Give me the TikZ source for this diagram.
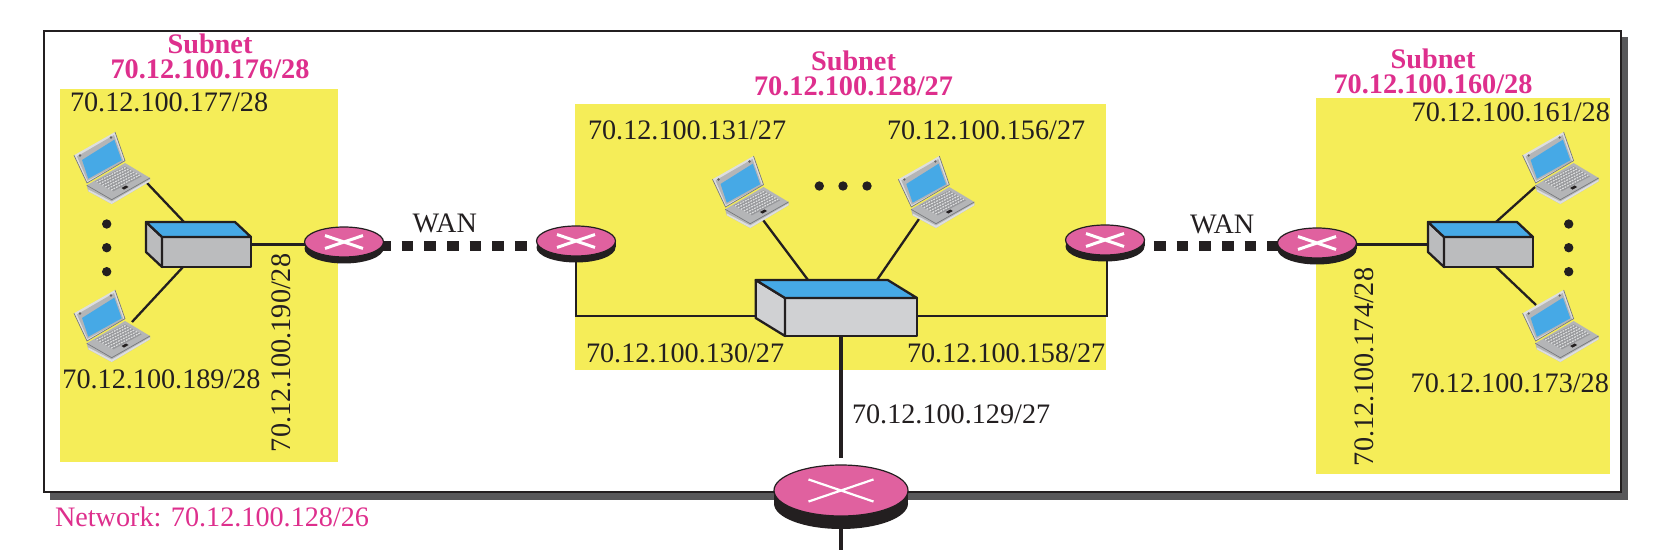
\documentclass[tikz,border=0pt]{standalone}
\usepackage{fontspec}
\setmainfont{Liberation Serif}
\definecolor{ybox}{HTML}{F5ED58}
\definecolor{rpink}{HTML}{E0619F}
\definecolor{tpink}{HTML}{DE2F8D}
\definecolor{sblue}{HTML}{46A9E6}
\definecolor{sgrey}{HTML}{BBBCBE}
\definecolor{sgreyb}{HTML}{D0D1D3}
\definecolor{shad}{HTML}{58585A}
\definecolor{ink}{HTML}{231F20}
\definecolor{lapa}{HTML}{B4B5B7}
\definecolor{lapb}{HTML}{77797C}
\definecolor{lapc}{HTML}{DDDEDF}
\definecolor{lapk}{HTML}{97989B}
\tikzset{
  hub/.style={inner sep=0pt,outer sep=0pt,minimum size=0pt},
  lbl/.style={inner sep=0pt,outer sep=0pt,anchor=base west,text=ink,font=\fontsize{14.1}{16}\selectfont},
  ttl/.style={inner sep=0pt,outer sep=0pt,anchor=base,align=center,text=tpink,font=\fontsize{14.15}{12.15}\selectfont\bfseries},
  wire/.style={draw=ink,line width=1.15pt},
  wan/.style={draw=ink,line width=5pt,dash pattern=on 5.83pt off 5.5pt},
  dot/.style={fill=ink},
  pics/routerbody/.style n args={5}{code={
    \fill[ink] (0,#3) ellipse [x radius=#1,y radius=#2];
    \fill[ink] (-#1,0) rectangle (#1,#3);
    \filldraw[fill=rpink,draw=ink,line width=.6pt] (0,0) ellipse [x radius=#1,y radius=#2];
    \draw[white,line width=#5] (-#4,-0.34*#4) -- (#4,0.34*#4) (-#4,0.34*#4) -- (#4,-0.34*#4);
  }},
  pics/switchbody/.style n args={5}{code={
    \begin{scope}[draw=ink,line width=1.15pt,line join=round]
    \filldraw[fill=#5] (#3,#4) rectangle (#3+#1,#4+#2);
    \filldraw[fill=#5] (0,0) -- (#3,#4) -- (#3,#4+#2) -- (0,#2) -- cycle;
    \filldraw[fill=sblue] (0,0) -- (#1,0) -- (#1+#3,#4) -- (#3,#4) -- cycle;
    \end{scope}
  }},
  pics/laptop/.style={code={
    % base
    \fill[lapa] (-25.3,17.3) -- (-23.7,23.3) -- (-0.3,36) -- (38,13.3) -- (38,10) -- (13,-5) -- cycle;
    \fill[lapc] (-23.7,23.3) -- (-0.3,36) -- (38,13.3) -- (38,11.5) -- (-0.3,33.6) -- (-23.7,21.5) -- cycle;
    \draw[lapb,line width=.35pt] (-25.3,17.3) -- (-0.3,31.7) -- (38,10);
    \fill[lapk] (-17,13.3) -- (13,-1.7) -- (29.7,8.3) -- (1.3,23.3) -- cycle;
    \foreach \k in {0.08,0.24,0.40,0.56,0.72,0.88}{
      \draw[lapc,line width=.6pt,dash pattern=on .9pt off .5pt]
        ({-17+\k*18.3},{13.3+\k*10}) -- ({13+\k*16.7},{-1.7+\k*10});
    }
    \fill[ink] (9.5,20) -- (14,17.5) -- (16.5,19) -- (12,21.6) -- cycle;
    % lid
    \fill[lapc] (-38,-12.7) -- (3,-36) -- (13,-7.3) -- (-25,15) -- cycle;
    \fill[lapa] (-35,-11.5) -- (2,-33) -- (11.5,-6.5) -- (-24.5,12.8) -- cycle;
    \draw[lapb,line width=.35pt] (-38,-12.7) -- (-25,15) -- (13,-7.3) -- (3,-36);
    \fill[sblue] (-30,-8) -- (2.3,-28.3) -- (9.7,-7.7) -- (-23.7,10.7) -- cycle;
    \fill[ink!70] (-32,-12.5) circle (1.3);
    \fill[ink!70] (-1,-30.5) circle (1.3);
  }}
}
\begin{document}
\begin{tikzpicture}[x=0.5pt,y=-0.5pt]
\useasboundingbox (0,0) rectangle (1658,550);
% frame
\fill[shad] (50,37) rectangle (1628,500);
\filldraw[fill=white,draw=ink,line width=1pt] (44,31) rectangle (1621,492);
% subnets
\fill[ybox] (60,89) rectangle (338,462);
\fill[ybox] (575,104) rectangle (1106,370);
\fill[ybox] (1316,98) rectangle (1610,474);
% hubs
\node[hub] (la) at (112,168) {};
\node[hub] (lb) at (112,326) {};
\node[hub] (ma) at (750.5,192) {};
\node[hub] (mb) at (936.3,192) {};
\node[hub] (ra) at (1560.6,168) {};
\node[hub] (rb) at (1560.6,326) {};
\node[hub] (sl) at (198.5,244.5) {};
\node[hub] (sm) at (836.5,308) {};
\node[hub] (sr) at (1480.5,244.5) {};
\node[hub] (r1) at (344,246) {};
\node[hub] (r2) at (576,246) {};
\node[hub] (r3) at (1105,246) {};
\node[hub] (r4) at (1317,246) {};
\node[hub] (br) at (841,497) {};
\coordinate (downend) at (841,550);
% connectors
\draw[wire] ([shift={(35,15)}]la.center) -- ([shift={(-14.5,-22.5)}]sl.center);
\draw[wire] ([shift={(20,-4)}]lb.center) -- ([shift={(-15.5,22.5)}]sl.center);
\draw[wire] ([shift={(12.5,28)}]ma.center) -- ([shift={(-28.5,-28)}]sm.center);
\draw[wire] ([shift={(-17.3,27)}]mb.center) -- ([shift={(40.5,-28)}]sm.center);
\draw[wire] ([shift={(-25.6,19)}]ra.center) -- ([shift={(15.5,-22.5)}]sr.center);
\draw[wire] ([shift={(-24.6,-21)}]rb.center) -- ([shift={(15.5,22.5)}]sr.center);
\draw[wire] (sl.center) -- (sl.center -| r1.center);
\draw[wire] (sr.center) -- (sr.center -| r4.center);
\draw[wire] (r2.center) |- ([shift={(-40,8)}]sm.center);
\draw[wire] ([xshift=1pt]r3.center) |- ([shift={(40,8)}]sm.center);
\draw[draw=ink,line width=2.4pt] ([shift={(4.5,0)}]sm.center) -- ([shift={(4.5,0)}]sm.center |- 0,458);
\draw[draw=ink,line width=2.4pt] (br.center) -- (downend);
\draw[wan,dash phase=5.15pt] (r1.center) -- (r2.center);
\draw[wan,dash phase=9.5pt] (r3.center) -- (r4.center);
% bodies
\pic at (la.center) {laptop};
\pic at (lb.center) {laptop};
\pic at (ma.center) {laptop};
\pic at (mb.center) {laptop};
\pic at (ra.center) {laptop};
\pic at (rb.center) {laptop};
\pic at (146,222) {switchbody={89}{30}{16}{15}{sgrey}};
\pic at (1428,222) {switchbody={89}{30}{16}{15}{sgrey}};
\pic at (755.7,280) {switchbody={132}{38}{29.3}{18}{sgreyb}};
\pic at (344,242) {routerbody={39.5}{15}{6.5}{19}{1.5pt}};
\pic at (576,241) {routerbody={39.5}{15}{6.5}{19}{1.5pt}};
\pic at (1105,240) {routerbody={39.5}{15}{6.5}{19}{1.5pt}};
\pic at (1317,243) {routerbody={39.5}{15}{6.5}{19}{1.5pt}};
\pic at (841,490.5) {routerbody={67}{25.5}{13}{32.5}{1.1pt}};
% ellipses of dots
\foreach \y in {224,247.7,271.7}{
  \fill[dot] (106.7,\y) circle (4.7);
  \fill[dot] (1568.7,\y) circle (4.7);
}
\foreach \x in {819.3,843,867}{
  \fill[dot] (\x,186) circle (4.7);
}
% texts
\node[ttl] (t1) at (210,78.3) {Subnet\\70.12.100.176/28};
\node[ttl] (t2) at (853.5,95.3) {Subnet\\70.12.100.128/27};
\node[ttl] (t3) at (1433,93.3) {Subnet\\70.12.100.160/28};
\node[lbl] (a177) at (70,112) {70.12.100.177/28};
\node[lbl] (a189) at (62.4,388) {70.12.100.189/28};
\node[lbl,rotate=90] (a190) at (290.7,452) {70.12.100.190/28};
\node[lbl] (a131) at (588,140) {70.12.100.131/27};
\node[lbl] (a156) at (887,140) {70.12.100.156/27};
\node[lbl] (a130) at (586,362.6) {70.12.100.130/27};
\node[lbl] (a158) at (907,362.6) {70.12.100.158/27};
\node[lbl] (a129) at (852,423.5) {70.12.100.129/27};
\node[lbl] (a161) at (1411.7,121.7) {70.12.100.161/28};
\node[lbl] (a173) at (1410.7,393) {70.12.100.173/28};
\node[lbl,rotate=90] (a174) at (1373,466) {70.12.100.174/28};
\node[lbl] (w1) at (412.7,232.7) {WAN};
\node[lbl] (w2) at (1190,234) {WAN};
\node[lbl,text=tpink] (net) at (55,526.7) {Network: 70.12.100.128/26};
\end{tikzpicture}
\end{document}
